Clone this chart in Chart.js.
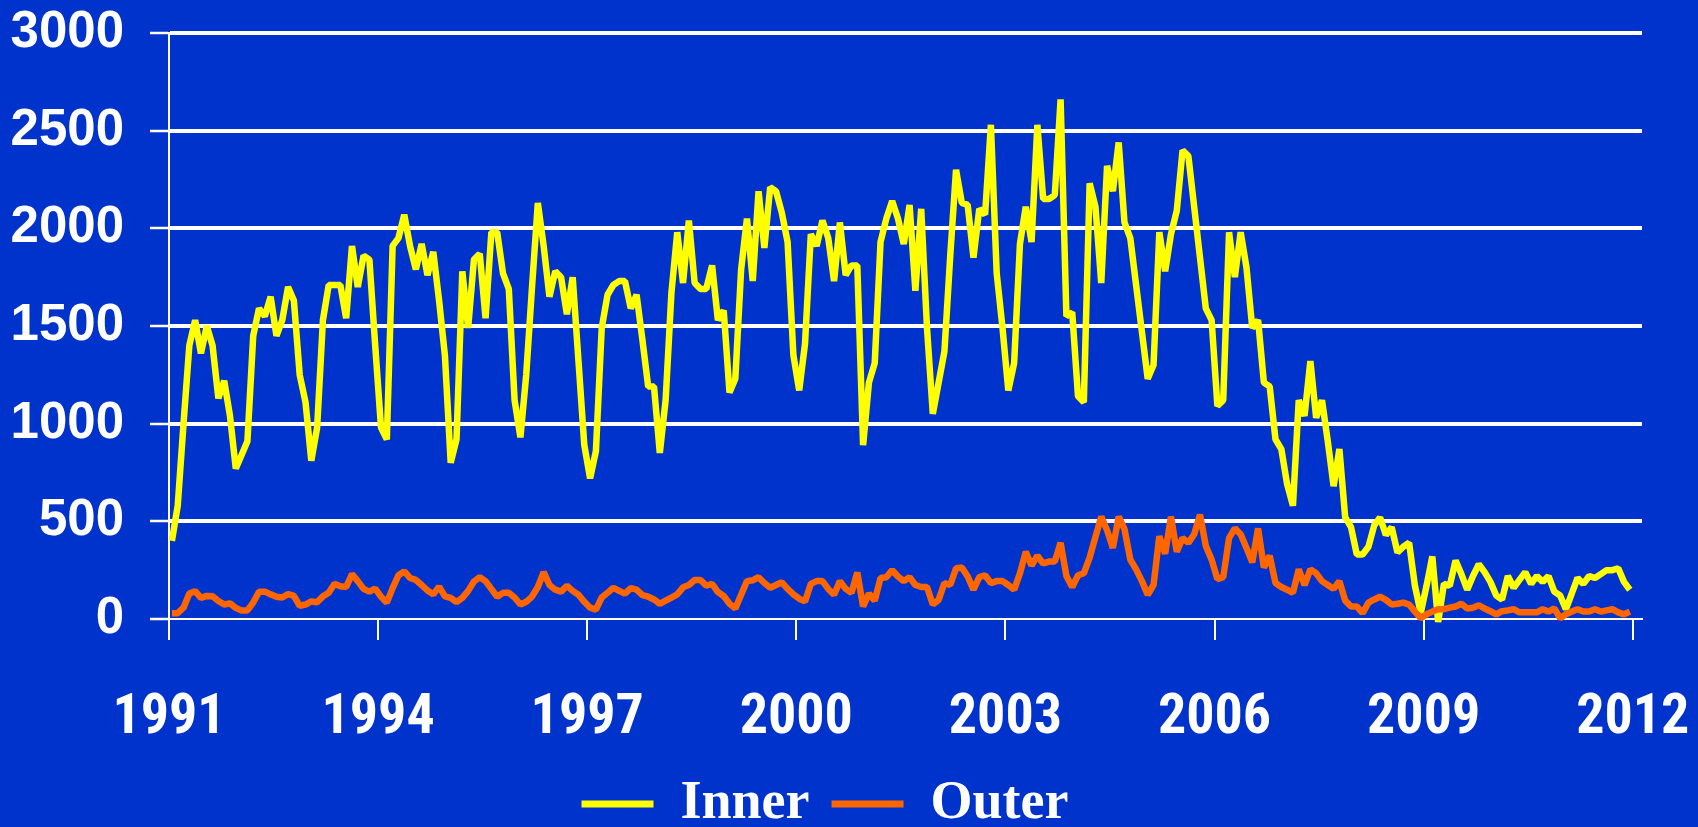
<!DOCTYPE html>
<html>
<head>
<meta charset="utf-8">
<title>Inner and Outer, monthly, 1991–2011</title>
<script src="https://cdn.jsdelivr.net/npm/chart.js@4.4.1/dist/chart.umd.min.js"></script>
<style>
  html, body { margin: 0; padding: 0; background: #0033CC; overflow: hidden; }
  #wrap { width: 1698px; height: 827px; position: relative; }
  canvas { display: block; }
</style>
</head>
<body>
<div id="wrap"><canvas id="chart" width="1698" height="827"></canvas></div>
<script>
// Monthly series, January 1991 to December 2011 (12 values per year)
const START_YEAR = 1991;
const YEAR_TICKS = [1991, 1994, 1997, 2000, 2003, 2006, 2009, 2012];
const Y_TICKS = [0, 500, 1000, 1500, 2000, 2500, 3000];
const SERIES_NAMES = ['Inner', 'Outer'];

const INNER = [
  400, 580, 1000, 1400, 1530, 1360, 1500, 1400, 1130, 1220, 1040, 770,
  840, 910, 1450, 1590, 1550, 1650, 1450, 1530, 1700, 1630, 1250, 1110,
  810, 980, 1530, 1710, 1710, 1710, 1540, 1910, 1700, 1860, 1840, 1400,
  980, 920, 1910, 1950, 2070, 1910, 1790, 1920, 1760, 1880, 1630, 1350,
  800, 920, 1780, 1490, 1840, 1870, 1540, 1980, 1980, 1770, 1690, 1120,
  930, 1250, 1700, 2130, 1910, 1650, 1780, 1750, 1560, 1750, 1320, 890,
  720, 860, 1490, 1660, 1710, 1730, 1730, 1590, 1660, 1430, 1190, 1190,
  850, 1120, 1670, 1980, 1720, 2040, 1720, 1690, 1690, 1810, 1530, 1580,
  1160, 1230, 1790, 2050, 1730, 2190, 1900, 2210, 2190, 2080, 1930, 1350,
  1170, 1410, 1970, 1910, 2040, 1950, 1730, 2030, 1760, 1810, 1810, 890,
  1210, 1310, 1930, 2050, 2140, 2050, 1920, 2120, 1680, 2100, 1490, 1050,
  1210, 1370, 1860, 2300, 2130, 2120, 1850, 2100, 2070, 2530, 1770, 1490,
  1170, 1310, 1920, 2110, 1930, 2530, 2150, 2150, 2170, 2660, 1550, 1570,
  1140, 1110, 2230, 2110, 1720, 2320, 2190, 2440, 2030, 1950, 1710, 1470,
  1230, 1300, 1980, 1780, 1970, 2090, 2400, 2370, 2110, 1850, 1590, 1530,
  1090, 1120, 1980, 1750, 1980, 1800, 1490, 1530, 1210, 1190, 920, 870,
  690, 580, 1120, 1040, 1320, 1030, 1120, 910, 680, 870, 520, 470,
  330, 330, 370, 480, 520, 430, 470, 340, 370, 390, 170, 30,
  170, 320, -15, 180, 170, 300, 230, 150, 220, 280, 240, 190,
  120, 100, 220, 160, 200, 240, 180, 220, 190, 220, 140, 120,
  50, 130, 210, 180, 220, 210, 230, 250, 250, 260, 190, 150
];

const OUTER = [
  30, 30, 58, 130, 142, 108, 118, 116, 92, 74, 80, 56,
  44, 44, 84, 140, 140, 126, 114, 110, 128, 118, 68, 74,
  90, 86, 116, 134, 180, 168, 164, 230, 194, 154, 140, 156,
  114, 84, 158, 224, 244, 210, 200, 174, 146, 126, 166, 116,
  108, 86, 108, 144, 192, 214, 194, 154, 114, 134, 134, 110,
  74, 88, 115, 164, 240, 174, 150, 140, 170, 144, 124, 88,
  58, 48, 110, 134, 160, 144, 130, 158, 150, 122, 114, 100,
  78, 94, 110, 126, 162, 174, 200, 200, 170, 180, 138, 118,
  78, 54, 124, 194, 198, 214, 184, 160, 174, 188, 154, 126,
  104, 90, 180, 194, 194, 154, 124, 194, 154, 134, 238, 64,
  130, 94, 210, 214, 250, 218, 194, 214, 174, 164, 164, 74,
  98, 184, 174, 260, 264, 218, 150, 214, 224, 184, 194, 194,
  174, 150, 234, 344, 274, 324, 284, 294, 294, 390, 220, 164,
  224, 234, 314, 420, 524, 454, 364, 524, 460, 304, 254, 194,
  124, 174, 424, 334, 524, 344, 414, 390, 434, 534, 374, 304,
  204, 214, 414, 464, 434, 364, 290, 464, 264, 324, 184, 164,
  150, 134, 254, 174, 254, 234, 194, 174, 154, 194, 94, 64,
  64, 30, 84, 100, 114, 98, 74, 78, 84, 74, 38, 4,
  24, 38, 50, 50, 58, 64, 78, 54, 58, 70, 54, 40,
  24, 40, 44, 50, 34, 34, 34, 34, 50, 38, 54, 4,
  24, 38, 50, 38, 38, 50, 38, 44, 50, 34, 24, 38
];

const SERIES_COLORS = ['#FFFF00', '#FF6600'];

// Each value sits in the middle of its month on a continuous year axis
function toPoints(values) {
  return values.map((v, i) => ({ x: START_YEAR + (i + 0.5) / 12, y: v }));
}

const background = {
  id: 'background',
  beforeDraw(chart) {
    const c = chart.ctx;
    c.save();
    c.fillStyle = '#0033CC';
    c.fillRect(0, 0, chart.width, chart.height);
    c.restore();
  }
};

const lineStyle = {
  borderWidth: 6.5,
  pointRadius: 0,
  pointHoverRadius: 0,
  tension: 0,
  fill: false,
  clip: false,
  borderJoinStyle: 'bevel',
  borderCapStyle: 'butt'
};

new Chart(document.getElementById('chart'), {
  type: 'line',
  data: {
    datasets: [
      Object.assign({
        label: SERIES_NAMES[0],
        data: toPoints(INNER),
        borderColor: SERIES_COLORS[0],
        backgroundColor: SERIES_COLORS[0],
        order: 1
      }, lineStyle),
      Object.assign({
        label: SERIES_NAMES[1],
        data: toPoints(OUTER),
        borderColor: SERIES_COLORS[1],
        backgroundColor: SERIES_COLORS[1],
        order: 0
      }, lineStyle)
    ]
  },
  options: {
    responsive: false,
    animation: false,
    devicePixelRatio: 1,
    events: [],
    layout: { padding: { left: 8, right: 56, top: 33, bottom: -14 } },
    plugins: {
      tooltip: { enabled: false },
      legend: {
        position: 'bottom',
        align: 'center',
        labels: {
          color: '#FFFFFF',
          boxWidth: 72,
          boxHeight: 7,
          padding: 22,
          font: { family: "'Liberation Serif', 'Times New Roman', serif", weight: 'bold', size: 54 },
          sort: (a, b) => a.datasetIndex - b.datasetIndex,
          generateLabels: chart =>
            Chart.defaults.plugins.legend.labels.generateLabels(chart)
              .map(item => Object.assign(item, { lineWidth: 0 }))
        }
      }
    },
    scales: {
      x: {
        type: 'linear',
        min: 1991,
        max: 2012.133,
        afterBuildTicks: scale => { scale.ticks = YEAR_TICKS.map(v => ({ value: v })); },
        afterFit: scale => {
          scale.height = 136;
          scale.paddingLeft = 0;
          scale.paddingRight = 0;
        },
        grid: {
          drawOnChartArea: false,
          drawTicks: true,
          tickLength: 21,
          color: '#FFFFFF',
          lineWidth: 2
        },
        border: { display: true, color: '#FFFFFF', width: 2 },
        ticks: {
          color: '#FFFFFF',
          padding: 45,
          autoSkip: false,
          maxRotation: 0,
          font: { family: "'Roboto Condensed', 'Liberation Sans', sans-serif", weight: 'bold', size: 56 },
          callback: v => String(v)
        }
      },
      y: {
        min: 0,
        max: 3000,
        afterBuildTicks: scale => { scale.ticks = Y_TICKS.map(v => ({ value: v })); },
        afterFit: scale => {
          scale.width = 161;
          scale.paddingTop = 0;
          scale.paddingBottom = 0;
        },
        grid: {
          color: '#FFFFFF',
          lineWidth: ctx => (ctx.tick && ctx.tick.value === 0 ? 2 : 4),
          tickWidth: 2.5,
          tickLength: 19
        },
        border: { display: true, color: '#FFFFFF', width: 2 },
        ticks: {
          color: '#FFFFFF',
          padding: 26,
          font: { family: "'Liberation Sans', Arial, sans-serif", weight: 'bold', size: 51 },
          callback: v => String(v)
        }
      }
    }
  },
  plugins: [background]
});
</script>
</body>
</html>
